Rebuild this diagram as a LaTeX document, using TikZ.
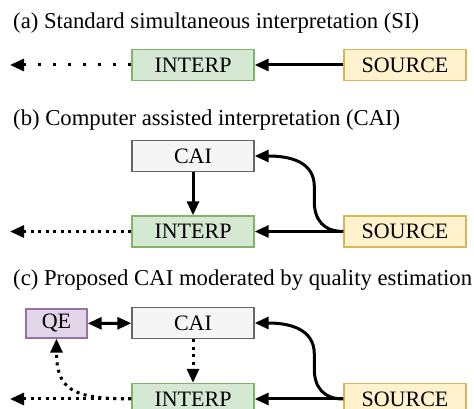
\documentclass[tikz,border=0pt]{standalone}
\usepackage{fontspec}
\setmainfont{Liberation Serif}
\usetikzlibrary{arrows.meta}
\definecolor{interpfill}{HTML}{D5E8D4}
\definecolor{interpline}{HTML}{82B366}
\definecolor{sourcefill}{HTML}{FFF2CC}
\definecolor{sourceline}{HTML}{D6B656}
\definecolor{caifill}{HTML}{F5F5F5}
\definecolor{cailine}{HTML}{666666}
\definecolor{qefill}{HTML}{E1D5E7}
\definecolor{qeline}{HTML}{9673A6}
\tikzset{
	box/.style={draw, line width=1.4pt, minimum width=122pt, minimum height=31pt, inner sep=0pt, font=\fontsize{22}{26}\selectfont},
	interp/.style={box, fill=interpfill, draw=interpline},
	source/.style={box, fill=sourcefill, draw=sourceline},
	cai/.style={box, fill=caifill, draw=cailine},
	qe/.style={box, fill=qefill, draw=qeline, minimum width=61pt, minimum height=29pt},
	title/.style={anchor=base west, inner sep=0pt, font=\fontsize{22.7}{26}\selectfont},
	tip/.tip={Triangle[length=14pt, width=12pt]},
	link/.style={line width=3pt, -tip},
	sparse/.style={link, dash pattern=on 3pt off 12pt},
	dense/.style={link, dash pattern=on 3pt off 4.5pt}
}

\begin{document}
\begin{tikzpicture}[x=1pt, y=1pt]
		\useasboundingbox (0,0) rectangle (474,409);
		\clip (0,0) rectangle (474,409);
		\node[title] (ta) at (13,380) {(a) Standard simultaneous interpretation (SI)};
		\node[title] (tb) at (13,283) {(b) Computer assisted interpretation (CAI)};
		\node[title] (tc) at (13,123) {(c) Proposed CAI moderated by quality estimation};
		\foreach \r/\y in {a/344, b/177.5, c/10} {
			\node[interp] (interp\r) at (193,\y) {INTERP};
			\node[source] (source\r) at (405,\y) {SOURCE};
			\coordinate (out\r) at (10,\y);
			\draw[link] (source\r) -- (interp\r);
		}
		\node[cai] (caib) at (193,253) {CAI};
		\node[cai] (caic) at (193,86) {CAI};
		\node[qe] (qe) at (56.5,85.5) {QE};
		\draw[sparse] (interpa) -- (outa);
		\draw[dense] (interpb) -- (outb);
		\draw[dense] (interpc) -- (outc);
		\foreach \r in {b, c}
			\draw[link] (source\r.west) .. controls +(-20,0) and +(0,-18) .. ++(-29,30) -- ++(0,15) .. controls +(0,25) and +(35,0) .. (cai\r.east);
		\draw[link] (caib) -- (interpb);
		\draw[dense] (caic) -- (interpc);
		\draw[link, tip-tip] (qe) -- (caic);
		\draw[dense] (interpc.west) .. controls +(-60,0) and +(0,-50) .. (qe.south);
	\end{tikzpicture}
\end{document}
